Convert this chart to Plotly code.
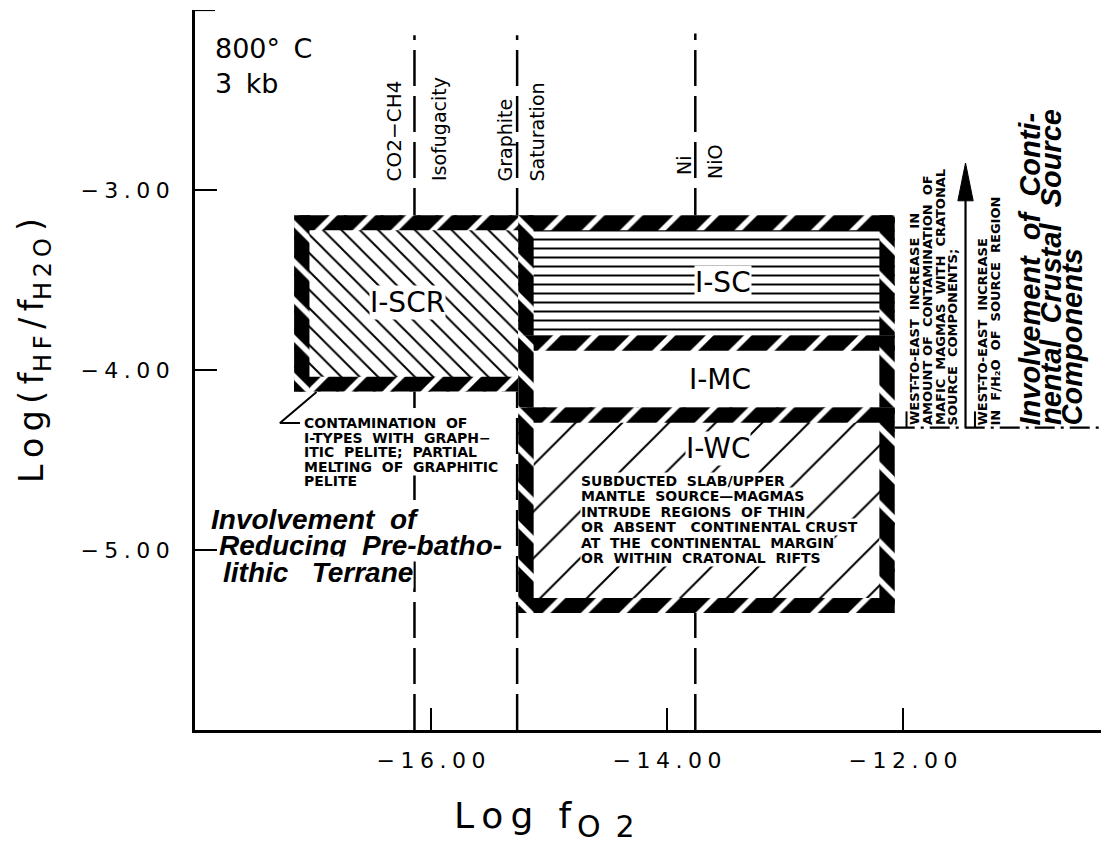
import plotly.graph_objects as go

# ---------------- data ----------------
x_range = [-18.0, -10.254]
y_range = [-6.0, -2.0]
xtick_vals = [-16, -14, -12]
xtick_text = ["\u2212\u20051\u20056\u2005.\u20050\u20050", "\u2212\u20051\u20054\u2005.\u20050\u20050", "\u2212\u20051\u20052\u2005.\u20050\u20050"]
ytick_vals = [-3, -4, -5]
ytick_text = ["\u2212\u20053\u2005.\u20050\u20050", "\u2212\u20054\u2005.\u20050\u20050", "\u2212\u20055\u2005.\u20050\u20050"]
# small end-bracket at the top of the y axis
top_bracket_x = [-18.0, -17.83]
top_bracket_y = [-2.0, -2.0]

# buffer reference lines (log fO2 at 800 C, 3 kb)
ref_names = ["CO2-CH4 isofugacity", "Graphite saturation", "Ni-NiO"]
ref_x = [-16.14, -15.27, -13.76]
ref_top = [-2.14, -2.14, -2.13]

# granitoid source regions (outer rectangle in data units)
box_names = ["I-SCR", "I-SC", "I-MC", "I-WC"]
box_x0 = [-17.16, -15.26, -15.26, -15.26]
box_x1 = [-15.13, -12.07, -12.07, -12.07]
box_y0 = [-4.12, -3.89, -4.29, -5.35]
box_y1 = [-3.14, -3.14, -3.81, -4.21]
box_hatch = ["\\", "-", "", "/"]
box_hatch_size = [13, 9, 10, 33]
box_hatch_solid = [0.15, 0.22, 0.0, 0.06]

# east boundary (dash-dot) at log(fHF/fH2O)
east_y = -4.32
# west-to-east arrow: shaft and head
arrow_x = -11.47
arrow_shaft_y = [-4.32, -3.02]
arrow_head_x = [-11.535, -11.47, -11.405, -11.535]
arrow_head_y = [-3.06, -2.85, -3.06, -3.06]
# leader from annotation to I-SCR box
leader_x = [-17.11, -17.28, -16.97]
leader_y = [-4.294, -4.294, -4.122]
# short markers on the dash-dot line
marker_x = [-11.97, -11.39]
marker_y = [-4.23, -4.32]

BX, BY = 0.13, 0.083   # border band thickness (data units)

def X(p):
    return -18 + (p - 195) / 118.0

def Y(p):
    return -2 - (p - 10) / 180.0

def PX(p):
    return (p - 195) / 914.0

def PY(p):
    return (730 - p) / 720.0

fig = go.Figure()

def line(xs, ys, width=2, dash="solid"):
    fig.add_trace(go.Scatter(x=xs, y=ys, mode="lines", line=dict(color="black", width=width, dash=dash),
                             showlegend=False, hoverinfo="skip"))

for nm, xv, yt in zip(ref_names, ref_x, ref_top):
    line([xv, xv], [y_range[0], yt], 2.5, "36px,10px")

line(top_bracket_x, top_bracket_y, 2.2)

def poly(x0, x1, y0, y1):
    return [x0, x1, x1, x0, x0], [y0, y0, y1, y1, y0]

def band(qx, qy, shape):
    fig.add_trace(go.Scatter(x=qx, y=qy, fill="toself", fillcolor="black", mode="lines",
                             line=dict(width=0), showlegend=False, hoverinfo="skip",
                             fillpattern=dict(shape=shape, fgcolor="white", bgcolor="black",
                                              fgopacity=1, size=27, solidity=0.2)))

for i, nm in enumerate(box_names):
    x0, x1, y0, y1 = box_x0[i], box_x1[i], box_y0[i], box_y1[i]
    px_, py_ = poly(x0, x1, y0, y1)
    kw = {}
    if box_hatch[i]:
        kw["fillpattern"] = dict(shape=box_hatch[i], fgcolor="black", bgcolor="white", fgopacity=1,
                                 size=box_hatch_size[i], solidity=box_hatch_solid[i])
    fig.add_trace(go.Scatter(x=px_, y=py_, fill="toself", fillcolor="white", mode="lines",
                             line=dict(width=0), name=nm, showlegend=False, hoverinfo="skip", **kw))
    for (a, b) in [(y1 - BY, y1), (y0, y0 + BY)]:
        qx, qy = poly(x0, x1, a, b)
        band(qx, qy, "/")
    for (a, b) in [(x0, x0 + BX), (x1 - BX, x1)]:
        qx, qy = poly(a, b, y0, y1)
        band(qx, qy, "\\")

line([box_x1[1], x_range[1]], [east_y, east_y], 2.2, "20px,6px,3px,6px")
line(leader_x, leader_y, 2)
for mx in marker_x:
    line([mx, mx], marker_y, 2)
line([arrow_x, arrow_x], arrow_shaft_y, 2.2)
fig.add_trace(go.Scatter(x=arrow_head_x, y=arrow_head_y, fill="toself", fillcolor="black", mode="lines",
                         line=dict(color="black", width=1), showlegend=False, hoverinfo="skip"))

ann = []
BASE = "DejaVu Sans"

def txt(text, x, y, size, xanchor="center", yanchor="middle", angle=0, weight="normal",
        style="normal", family=BASE, bg=None, ref="x"):
    d = dict(text=text, x=x, y=y, xref=ref, yref=ref.replace("x", "y"), showarrow=False,
             xanchor=xanchor, yanchor=yanchor, textangle=angle,
             font=dict(family=family, size=size, color="black", weight=weight, style=style),
             borderpad=0)
    if bg:
        d["bgcolor"] = bg
    ann.append(d)

# header
txt("800\u00b0\u2002C", X(214), Y(48), 27, xanchor="left")
txt("3\u2002kb", X(214), Y(83), 27, xanchor="left")

# reference line labels (rotated)
txt("CO2\u2212CH4", X(394), Y(182), 20, angle=-90, yanchor="bottom")
txt("Isofugacity", X(439), Y(182), 19, angle=-90, yanchor="bottom")
txt("Graphite", X(505), Y(182), 19, angle=-90, yanchor="bottom")
txt("Saturation", X(537), Y(182), 19, angle=-90, yanchor="bottom")
txt("Ni", X(684), Y(176), 19, angle=-90, yanchor="bottom")
txt("NiO", X(715), Y(180), 19, angle=-90, yanchor="bottom")

# box labels
txt("I-SCR", X(408), Y(302), 28, bg="white")
txt("I-SC", X(723), Y(282), 28, bg="white")
txt("I-MC", X(720), Y(379), 28)
txt("I-WC", X(718), Y(448), 28, bg="white")

wc_lines = ["SUBDUCTED\u00a0 SLAB/UPPER", "MANTLE\u00a0 SOURCE\u2014MAGMAS",
            "INTRUDE\u00a0 REGIONS\u00a0 OF THIN", "OR\u00a0 ABSENT\u00a0\u00a0 CONTINENTAL CRUST",
            "AT\u00a0 THE\u00a0 CONTINENTAL\u00a0 MARGIN", "OR\u00a0 WITHIN\u00a0 CRATONAL\u00a0 RIFTS"]
for k, s in enumerate(wc_lines):
    txt(s, X(580), Y(481 + 15.4 * k), 14, xanchor="left", weight="bold", bg="white")

con_lines = ["CONTAMINATION\u00a0 OF", "I-TYPES\u00a0 WITH\u00a0 GRAPH\u2212",
             "ITIC\u00a0 PELITE;\u00a0 PARTIAL", "MELTING\u00a0 OF\u00a0 GRAPHITIC", "PELITE"]
for k, s in enumerate(con_lines):
    txt(s, X(303), Y(423 + 14.6 * k), 14, xanchor="left", weight="bold", bg="white")

red_lines = [("Involvement\u00a0 of", 210), ("Reducing\u00a0 Pre-batho-", 218), ("lithic\u00a0\u00a0 Terrane", 222)]
for k, (s, xl) in enumerate(red_lines):
    txt(s, X(xl), Y(519 + 26.5 * k), 28, xanchor="left", weight="bold", style="italic",
        family="Liberation Sans", bg="white")

# right-hand rotated notes
col1 = ["WEST-TO-EAST\u00a0 INCREASE\u00a0 IN", "AMOUNT OF\u00a0 CONTAMINATION\u00a0 OF",
        "MAFIC\u00a0 MAGMAS\u00a0 WITH\u00a0 CRATONAL", "SOURCE\u00a0 COMPONENTS;"]
for k, s in enumerate(col1):
    txt(s, X(914 + 13 * k), Y(426), 13, angle=-90, yanchor="bottom", weight="bold")
col2 = ["WEST-TO-EAST\u00a0 INCREASE", "IN\u00a0 F/H\u2082O\u00a0 OF\u00a0 SOURCE\u00a0 REGION"]
for k, s in enumerate(col2):
    txt(s, X(983 + 13 * k), Y(426), 13, angle=-90, yanchor="bottom", weight="bold")
col3 = ["Involvement\u00a0 of\u00a0 Conti-", "nental\u00a0 Crustal\u00a0 Source", "Components"]
for k, s in enumerate(col3):
    txt(s, X(1030 + 21 * k), Y(426), 29, angle=-90, yanchor="bottom", weight="bold",
        style="italic", family="Liberation Sans")

# ---- axis titles, built from pieces so the subscripts are real text of their own ----
T = "\u2009"
# y title: (text, font size, is_subscript, width in em)
ytitle = [("L" + T + "o" + T + "g" + T + "(" + T + "f", 33, False, 3.346),
          ("H" + T + "F", 24, True, 1.527),
          (T + "/" + T + "f", 33, False, 1.089),
          ("H" + T + "2" + T + "O", 24, True, 2.575),
          (T + ")", 33, False, 0.59)]
ypos = 484.0
for s, fs, sub, w in ytitle:
    txt(s, PX(43 if sub else 31), PY(ypos), fs, angle=-90, yanchor="bottom", ref="paper")
    ypos -= w * fs
# x title
txt("L" + T + "o" + T + "g" + "\u2002" + T + "f", PX(453), PY(815), 36, xanchor="left", ref="paper")
txt("O\u20022", PX(576), PY(826), 30, xanchor="left", ref="paper")

fig.update_layout(
    width=1101, height=841,
    margin=dict(l=187, r=0, t=2, b=119),
    plot_bgcolor="white", paper_bgcolor="white",
    showlegend=False,
    annotations=ann,
    xaxis=dict(range=x_range, showgrid=False, zeroline=False, showline=True, linecolor="black",
               linewidth=2.5, ticks="inside", ticklen=22, tickwidth=2.2, tickcolor="black",
               tickvals=xtick_vals, ticktext=xtick_text, ticklabelstandoff=9,
               tickfont=dict(family=BASE, size=22, color="black")),
    yaxis=dict(range=y_range, showgrid=False, zeroline=False, showline=True, linecolor="black",
               linewidth=2.5, ticks="inside", ticklen=22, tickwidth=2.2, tickcolor="black",
               tickvals=ytick_vals, ticktext=ytick_text, ticklabelstandoff=18,
               tickfont=dict(family=BASE, size=22, color="black")),
)

fig.write_html("out.html")
